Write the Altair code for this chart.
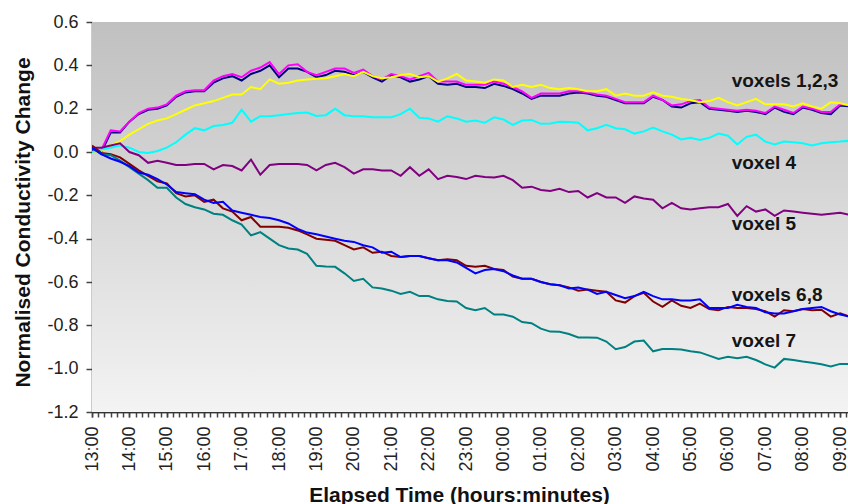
import altair as alt
import pandas as pd

FONT = "Liberation Sans"
STEP_H = 0.25  # one reading every 15 minutes, starting at 13:00
PLOT_W, PLOT_H = 756, 390

names = ["voxel 1", "voxel 2", "voxel 3", "voxel 4", "voxel 5", "voxel 6", "voxel 7", "voxel 8"]
colors = ["#000080", "#ff00ff", "#ffff00", "#00ffff", "#800080", "#800000", "#008080", "#0000ff"]

voxel1 = [0.01, 0.0, 0.09, 0.09, 0.14, 0.175, 0.195, 0.20, 0.215, 0.255, 0.275, 0.28, 0.28, 0.32, 0.34, 0.35,
          0.33, 0.36, 0.375, 0.40, 0.345, 0.385, 0.385, 0.37, 0.345, 0.355, 0.375, 0.37, 0.355, 0.37, 0.345,
          0.325, 0.355, 0.345, 0.325, 0.335, 0.35, 0.315, 0.31, 0.315, 0.30, 0.30, 0.295, 0.315, 0.305, 0.29,
          0.27, 0.245, 0.26, 0.26, 0.26, 0.27, 0.275, 0.27, 0.26, 0.255, 0.24, 0.225, 0.225, 0.225, 0.255,
          0.24, 0.21, 0.205, 0.225, 0.23, 0.20, 0.195, 0.19, 0.185, 0.19, 0.185, 0.175, 0.205, 0.185, 0.175,
          0.205, 0.195, 0.18, 0.175, 0.215, 0.21]
voxel2 = [0.0, 0.01, 0.10, 0.095, 0.14, 0.18, 0.20, 0.205, 0.22, 0.26, 0.28, 0.285, 0.285, 0.33, 0.35, 0.36,
          0.345, 0.375, 0.39, 0.415, 0.36, 0.40, 0.405, 0.37, 0.355, 0.37, 0.385, 0.385, 0.365, 0.38, 0.35,
          0.335, 0.36, 0.35, 0.335, 0.35, 0.365, 0.325, 0.325, 0.325, 0.31, 0.31, 0.31, 0.325, 0.315, 0.30,
          0.28, 0.25, 0.27, 0.27, 0.27, 0.28, 0.28, 0.275, 0.265, 0.26, 0.245, 0.23, 0.23, 0.23, 0.26, 0.24,
          0.215, 0.22, 0.235, 0.24, 0.205, 0.20, 0.195, 0.19, 0.195, 0.19, 0.18, 0.21, 0.195, 0.18, 0.21,
          0.20, 0.185, 0.185, 0.22, 0.215]
voxel3 = [0.0, 0.005, 0.03, 0.05, 0.08, 0.105, 0.13, 0.145, 0.155, 0.175, 0.195, 0.215, 0.225, 0.235, 0.25,
          0.265, 0.265, 0.30, 0.29, 0.335, 0.315, 0.32, 0.33, 0.335, 0.338, 0.34, 0.35, 0.36, 0.35, 0.37,
          0.35, 0.34, 0.345, 0.355, 0.36, 0.345, 0.35, 0.325, 0.34, 0.36, 0.33, 0.325, 0.32, 0.335, 0.33,
          0.30, 0.31, 0.30, 0.31, 0.295, 0.29, 0.295, 0.29, 0.28, 0.28, 0.29, 0.26, 0.27, 0.26, 0.26, 0.275,
          0.26, 0.255, 0.245, 0.24, 0.23, 0.235, 0.25, 0.23, 0.215, 0.23, 0.245, 0.22, 0.22, 0.22, 0.21,
          0.225, 0.21, 0.20, 0.23, 0.225, 0.215]
voxel4 = [0.0, 0.012, 0.02, 0.03, 0.02, 0.0, -0.005, 0.005, 0.02, 0.045, 0.08, 0.11, 0.10, 0.12, 0.125,
          0.135, 0.195, 0.14, 0.165, 0.165, 0.17, 0.175, 0.18, 0.182, 0.166, 0.17, 0.20, 0.17, 0.165, 0.165,
          0.16, 0.16, 0.16, 0.175, 0.20, 0.158, 0.155, 0.14, 0.165, 0.155, 0.14, 0.145, 0.135, 0.16, 0.15,
          0.125, 0.145, 0.148, 0.13, 0.132, 0.14, 0.138, 0.135, 0.10, 0.11, 0.125, 0.11, 0.105, 0.085, 0.095,
          0.113, 0.095, 0.08, 0.058, 0.066, 0.055, 0.065, 0.085, 0.075, 0.035, 0.07, 0.08, 0.048, 0.035,
          0.048, 0.045, 0.04, 0.03, 0.04, 0.045, 0.048, 0.052]
voxel5 = [0.02, 0.02, 0.03, 0.04, 0.0, -0.015, -0.05, -0.04, -0.05, -0.06, -0.06, -0.055, -0.055, -0.08,
          -0.06, -0.065, -0.085, -0.035, -0.105, -0.06, -0.055, -0.055, -0.055, -0.06, -0.085, -0.06, -0.05,
          -0.07, -0.10, -0.08, -0.08, -0.085, -0.085, -0.11, -0.07, -0.11, -0.08, -0.125, -0.11, -0.115,
          -0.125, -0.11, -0.115, -0.118, -0.11, -0.13, -0.165, -0.16, -0.175, -0.18, -0.17, -0.185, -0.18,
          -0.21, -0.19, -0.21, -0.21, -0.235, -0.205, -0.215, -0.22, -0.26, -0.235, -0.26, -0.265, -0.26,
          -0.255, -0.255, -0.24, -0.295, -0.25, -0.275, -0.265, -0.295, -0.27, -0.275, -0.28, -0.285, -0.29,
          -0.285, -0.28, -0.29]
voxel6 = [0.03, -0.005, -0.01, -0.025, -0.055, -0.085, -0.11, -0.135, -0.145, -0.19, -0.205, -0.20, -0.23,
          -0.22, -0.26, -0.275, -0.315, -0.30, -0.345, -0.345, -0.345, -0.35, -0.362, -0.38, -0.40, -0.405,
          -0.41, -0.43, -0.45, -0.44, -0.465, -0.46, -0.48, -0.485, -0.48, -0.48, -0.49, -0.50, -0.495, -0.50,
          -0.525, -0.53, -0.525, -0.54, -0.545, -0.575, -0.585, -0.585, -0.60, -0.61, -0.615, -0.625, -0.64,
          -0.635, -0.64, -0.645, -0.685, -0.695, -0.665, -0.65, -0.69, -0.715, -0.685, -0.71, -0.72, -0.70,
          -0.725, -0.73, -0.715, -0.72, -0.72, -0.725, -0.735, -0.76, -0.73, -0.735, -0.725, -0.73, -0.728,
          -0.76, -0.745, -0.76]
voxel7 = [0.02, -0.01, -0.015, -0.04, -0.07, -0.10, -0.13, -0.165, -0.165, -0.21, -0.24, -0.255, -0.265,
          -0.285, -0.29, -0.315, -0.335, -0.385, -0.37, -0.40, -0.43, -0.445, -0.45, -0.47, -0.525, -0.528,
          -0.53, -0.56, -0.595, -0.585, -0.625, -0.63, -0.64, -0.655, -0.645, -0.665, -0.665, -0.68, -0.688,
          -0.69, -0.72, -0.73, -0.72, -0.75, -0.75, -0.76, -0.785, -0.79, -0.815, -0.829, -0.83, -0.84,
          -0.856, -0.856, -0.857, -0.875, -0.91, -0.90, -0.875, -0.87, -0.92, -0.909, -0.909, -0.912, -0.92,
          -0.925, -0.94, -0.955, -0.945, -0.952, -0.945, -0.96, -0.98, -0.995, -0.955, -0.96, -0.967, -0.973,
          -0.98, -0.99, -0.978, -0.978]
voxel8 = [0.02, -0.01, -0.03, -0.045, -0.065, -0.095, -0.105, -0.125, -0.15, -0.185, -0.19, -0.195, -0.22,
          -0.235, -0.23, -0.27, -0.28, -0.29, -0.30, -0.305, -0.315, -0.33, -0.355, -0.372, -0.38, -0.39,
          -0.40, -0.41, -0.415, -0.43, -0.44, -0.465, -0.46, -0.485, -0.48, -0.48, -0.49, -0.50, -0.50, -0.51,
          -0.535, -0.56, -0.545, -0.54, -0.55, -0.57, -0.585, -0.585, -0.60, -0.61, -0.615, -0.63, -0.625,
          -0.635, -0.655, -0.645, -0.66, -0.675, -0.665, -0.645, -0.665, -0.68, -0.68, -0.685, -0.685, -0.68,
          -0.72, -0.72, -0.72, -0.705, -0.715, -0.72, -0.74, -0.745, -0.745, -0.735, -0.725, -0.72, -0.715,
          -0.735, -0.75, -0.76]

series = [voxel1, voxel2, voxel3, voxel4, voxel5, voxel6, voxel7, voxel8]

# group labels written beside the curves (position in hours after 13:00, value)
label_text = ["voxels 1,2,3", "voxel 4", "voxel 5", "voxels 6,8", "voxel 7"]
label_hours = [17.1, 17.1, 17.1, 17.1, 17.1]
label_value = [0.301, -0.08, -0.361, -0.689, -0.901]

hour_labels = ["13:00", "14:00", "15:00", "16:00", "17:00", "18:00", "19:00", "20:00", "21:00", "22:00",
               "23:00", "00:00", "01:00", "02:00", "03:00", "04:00", "05:00", "06:00", "07:00", "08:00",
               "09:00"]
y_ticks = [-1.2, -1.0, -0.8, -0.6, -0.4, -0.2, 0.0, 0.2, 0.4, 0.6]

rows = []
for order, (name, vals) in enumerate(zip(names, series)):
    for i, v in enumerate(vals):
        rows.append({"voxel": name, "order": order, "hours": i * STEP_H, "change": v})
df = pd.DataFrame(rows)
lab_df = pd.DataFrame({"text": label_text, "hours": label_hours, "change": label_value})

hour_ticks = list(range(len(hour_labels)))
minor_ticks = [i / 6 for i in range(0, 122)]  # every 10 minutes
hour_array = "[" + ",".join("'" + h + "'" for h in hour_labels) + "]"
x_label_expr = hour_array + "[round(datum.value)]"
y_label_expr = "replace(format(datum.value, '.1f'), '\u2212', '-')"

x_scale = alt.Scale(domain=[0, 20.21], nice=False, zero=False)
y_scale = alt.Scale(domain=[-1.2, 0.6], nice=False, zero=False)

x_axis = alt.Axis(
    orient="bottom", values=hour_ticks, labelExpr=x_label_expr, labelAngle=270, labelFont=FONT,
    labelFontSize=18, labelColor="#222222", labelPadding=9, labelOverlap=False, labelFlush=False,
    labelBound=False,
    tickSize=5, tickColor="#444444", tickWidth=1.5, domainColor="#333333", domainWidth=1.5, grid=False,
    title="Elapsed Time (hours:minutes)", titleFont=FONT, titleFontSize=21, titleFontWeight="bold",
    titleColor="#111111", titleX=367, titleY=89, titleBaseline="alphabetic", titleAlign="center",
)
x_minor_axis = alt.Axis(
    orient="bottom", values=minor_ticks, labels=False, domain=False, grid=False, title=None,
    tickSize=5, tickColor="#444444", tickWidth=1.5,
)
y_axis = alt.Axis(
    values=y_ticks, labelExpr=y_label_expr, labelFont=FONT, labelFontSize=18, labelColor="#222222",
    labelPadding=8, tickSize=6, tickColor="#444444", tickWidth=1.5, domainColor="#333333",
    domainWidth=1.5, grid=True, gridWidth=1.8,
    gridColor={"condition": {"test": "datum.value > 0.55", "value": "#ffffff"}, "value": "#000000"},
    gridOpacity={"condition": {"test": "datum.value > 0.55", "value": 0.6}, "value": 0.3},
    title="Normalised Conductivity Change", titleFont=FONT, titleFontSize=21, titleFontWeight="bold",
    titleColor="#111111", titleX=-63, titleY=200, titleBaseline="alphabetic", titleAlign="center",
    titleAngle=270,
)

# shaded plot background, darker at the top; it also carries the 10-minute ticks
shade = alt.LinearGradient(
    gradient="linear",
    stops=[alt.GradientStop(color="#c0c0c0", offset=0), alt.GradientStop(color="#f3f3f3", offset=1)],
    x1=0, x2=0, y1=0, y2=1,
)
backdrop = alt.Chart(pd.DataFrame({"start": [0.0], "end": [20.21], "low": [-1.2], "high": [0.6]})).mark_rect(
    fill=shade
).encode(
    x=alt.X("start:Q", scale=x_scale, axis=x_minor_axis),
    x2="end:Q",
    y=alt.Y("low:Q", scale=y_scale, axis=y_axis),
    y2="high:Q",
)

lines = alt.Chart(df).mark_line(strokeWidth=2, clip=True).encode(
    x=alt.X("hours:Q", scale=x_scale, axis=x_axis),
    y=alt.Y("change:Q", scale=y_scale, axis=y_axis),
    color=alt.Color("voxel:N", scale=alt.Scale(domain=names, range=colors), legend=None),
    detail="order:O",
)

labels = alt.Chart(lab_df).mark_text(
    align="left", baseline="alphabetic", font=FONT, fontSize=19, fontWeight="bold", color="#151515"
).encode(
    x=alt.X("hours:Q", scale=x_scale, axis=None),
    y=alt.Y("change:Q", scale=y_scale, axis=y_axis),
    text="text:N",
)

chart = alt.layer(backdrop, lines, labels).resolve_axis(x="independent").properties(
    width=PLOT_W, height=PLOT_H,
    autosize=alt.AutoSizeParams(type="none"),
    padding={"left": 92, "top": 22, "right": 0, "bottom": 92},
    background="white",
).configure_view(strokeWidth=0)

chart.save("out.html", embed_options={"renderer": "svg", "actions": False})
